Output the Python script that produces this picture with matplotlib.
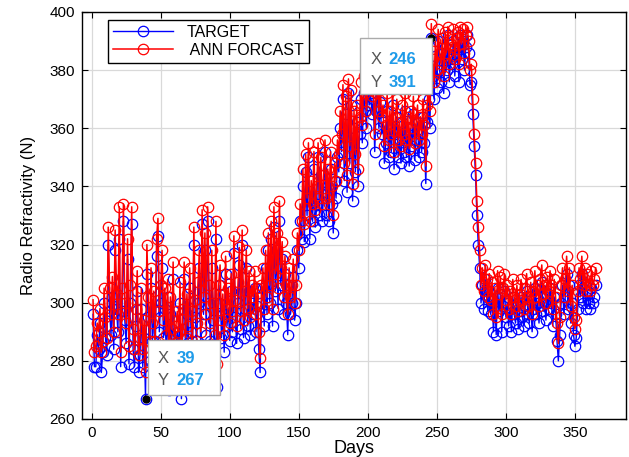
import numpy as np
import matplotlib
matplotlib.use("Agg")
import matplotlib.pyplot as plt
from matplotlib.patches import Rectangle

plt.rcParams['font.family'] = ['Liberation Sans', 'DejaVu Sans']

days = list(range(1, 366))

target = [
    296, 278, 278, 289, 284, 293, 276, 283, 300, 288,
    282, 320, 297, 289, 302, 284, 318, 298, 290, 322,
    278, 297, 328, 294, 286, 315, 279, 300, 327, 284,
    278, 292, 304, 276, 282, 298, 278, 288, 267, 310,
    295, 280, 305, 287, 298, 281, 316, 323, 290, 300,
    312, 288, 298, 283, 302, 270, 296, 285, 308, 280,
    286, 290, 284, 300, 267, 291, 308, 282, 296, 286,
    305, 290, 281, 320, 295, 287, 300, 312, 284, 327,
    296, 318, 289, 328, 300, 287, 312, 294, 282, 322,
    271, 300, 306, 288, 296, 283, 310, 292, 298, 287,
    304, 290, 317, 295, 286, 300, 313, 291, 320, 288,
    298, 312, 292, 304, 289, 300, 296, 305, 290, 299,
    284, 276, 300, 305, 292, 312, 296, 318, 300, 322,
    292, 326, 304, 318, 298, 328, 306, 315, 296, 310,
    300, 289, 306, 296, 300, 309, 294, 300, 318, 312,
    328, 322, 340, 321, 345, 330, 350, 322, 336, 328,
    346, 326, 334, 350, 330, 344, 328, 338, 352, 330,
    340, 328, 346, 334, 324, 342, 336, 350, 345, 360,
    352, 370, 342, 365, 338, 372, 348, 368, 335, 360,
    345, 362, 340, 358, 370, 355, 372, 366, 360, 375,
    368, 372, 365, 370, 352, 366, 374, 360, 369, 358,
    362, 348, 355, 366, 350, 360, 352, 368, 346, 358,
    364, 350, 356, 348, 362, 352, 366, 350, 358, 347,
    360, 354, 365, 349, 356, 362, 350, 358, 352, 364,
    355, 341, 362, 370, 360, 391, 378, 370, 385, 374,
    390, 380, 376, 386, 372, 388, 380, 392, 376, 384,
    382, 390, 378, 386, 388, 376, 392, 384, 390, 380,
    388, 392, 386, 375, 376, 365, 354, 344, 330, 320,
    312, 300, 306, 298, 308, 302, 297, 304, 296, 301,
    290, 299, 289, 305, 297, 303, 290, 299, 304, 295,
    300, 292, 298, 290, 302, 296, 293, 300, 291, 297,
    302, 295, 292, 299, 304, 296, 293, 301, 290, 298,
    305, 296, 300, 293, 302, 307, 297, 300, 294, 303,
    298, 305, 300, 292, 302, 296, 287, 280, 289, 300,
    306, 296, 302, 310, 298, 306, 293, 300, 289, 285,
    288, 298, 306, 302, 310, 300, 306, 298, 304, 300,
    298, 305, 300, 302, 306,
]

forecast = [
    301, 283, 285, 293, 290, 298, 283, 287, 305, 295,
    288, 326, 305, 296, 309, 290, 325, 303, 296, 333,
    283, 305, 334, 300, 293, 322, 285, 306, 333, 291,
    284, 298, 311, 282, 288, 305, 284, 294, 276, 320,
    302, 287, 312, 293, 304, 287, 322, 329, 297, 306,
    318, 294, 305, 289, 308, 277, 302, 291, 314, 286,
    292, 297, 290, 307, 274, 298, 314, 288, 303, 292,
    312, 297, 287, 326, 301, 293, 307, 318, 290, 332,
    302, 324, 296, 333, 306, 293, 318, 300, 289, 328,
    279, 306, 313, 294, 303, 289, 316, 298, 305, 293,
    310, 297, 323, 301, 292, 307, 319, 297, 325, 294,
    304, 318, 298, 311, 295, 306, 302, 311, 296, 305,
    290, 281, 306, 312, 298, 318, 302, 324, 306, 328,
    298, 333, 310, 324, 305, 335, 312, 321, 302, 316,
    306, 296, 312, 302, 306, 315, 300, 306, 324, 318,
    334, 328, 346, 327, 351, 336, 355, 328, 342, 334,
    352, 332, 340, 355, 336, 350, 334, 344, 356, 336,
    346, 334, 352, 340, 330, 348, 342, 356, 351, 366,
    358, 375, 348, 371, 344, 377, 354, 373, 341, 366,
    351, 368, 346, 364, 376, 361, 378, 372, 366, 380,
    374, 378, 371, 376, 358, 372, 380, 366, 375, 364,
    368, 354, 361, 372, 356, 366, 358, 374, 352, 364,
    370, 356, 362, 354, 368, 358, 372, 356, 364, 353,
    366, 360, 371, 355, 362, 368, 356, 364, 358, 370,
    361, 347, 368, 376, 366, 396, 384, 376, 390, 380,
    394, 386, 382, 391, 378, 393, 386, 395, 382, 389,
    388, 394, 384, 391, 393, 382, 395, 389, 394, 386,
    392, 395, 390, 380, 382, 370, 358, 348, 335, 326,
    318, 306, 312, 304, 313, 308, 302, 310, 301, 307,
    296, 305, 295, 311, 303, 309, 296, 305, 310, 301,
    306, 298, 304, 296, 308, 302, 299, 306, 297, 303,
    308, 301, 298, 305, 310, 302, 299, 307, 296, 304,
    311, 302, 306, 299, 308, 313, 303, 306, 300, 309,
    304, 311, 306, 298, 308, 302, 293, 286, 295, 306,
    312, 302, 308, 316, 304, 312, 299, 306, 295, 291,
    294, 304, 312, 308, 316, 306, 312, 304, 310, 306,
    304, 311, 306, 308, 312,
]

x_ticks = [0, 50, 100, 150, 200, 250, 300, 350]
y_ticks = [260, 280, 300, 320, 340, 360, 380, 400]
tips = [(39, 267), (246, 391)]

W, H = 629, 457
fig = plt.figure(figsize=(W / 100, H / 100), dpi=100)
ax = fig.add_axes([82 / W, 1 - 419 / H, (626 - 82) / W, (419 - 12) / H])

ax.plot(days, target, color='#0000FF', lw=1.0, marker='o', mfc='none',
        mec='#0000FF', ms=7.5, mew=0.9, label='TARGET')
ax.plot(days, forecast, color='#FF0000', lw=1.1, marker='o', mfc='none',
        mec='#FF0000', ms=7.5, mew=0.9, label=' ANN FORCAST')

ax.set_xlim(-7, 387)
ax.set_ylim(260, 400)
ax.set_xticks(x_ticks)
ax.set_yticks(y_ticks)
ax.grid(True, color='#d9d9d9', lw=0.9)
ax.set_axisbelow(True)
ax.tick_params(direction='in', top=True, right=True, labelsize=11, length=4, pad=5)
for s in ax.spines.values():
    s.set_linewidth(1.0)
ax.set_ylabel('Radio Refractivity (N)', fontsize=12, labelpad=10)
ax.set_xlabel('Days', fontsize=13, labelpad=0)

leg = ax.legend(loc='upper left', bbox_to_anchor=((108 - 82) / (626 - 82), 1 - (20 - 12) / (419 - 12)),
                fontsize=11.5, frameon=True, fancybox=False, edgecolor='black',
                framealpha=1, borderpad=0.3, handlelength=3.8, labelspacing=0.2,
                borderaxespad=0)
leg.get_frame().set_linewidth(1.0)

fig.canvas.draw()

def add_tip(xv, yv, box, tx, lab_x, lab_y):
    p = ax.transData.transform((xv, yv))
    x0, y0, w, h = box
    fig.patches.append(Rectangle(((p[0] + x0) / W, (p[1] + y0) / H), w / W, h / H,
                                 transform=fig.transFigure, facecolor='white',
                                 edgecolor='#aaaaaa', lw=1.0, zorder=10))
    for dy, name, val in [(lab_y[0], 'X', str(xv)), (lab_y[1], 'Y', str(yv))]:
        fig.text((p[0] + tx) / W, (p[1] + dy) / H, name, color='#555555',
                 fontsize=12, va='center', ha='left', zorder=11)
        fig.text((p[0] + lab_x) / W, (p[1] + dy) / H, val, color='#1e9be9',
                 fontsize=12, fontweight='bold', va='center', ha='left', zorder=11)
    ax.plot([xv], [yv], 'o', color='black', ms=5, zorder=12)

add_tip(tips[0][0], tips[0][1], (2, 4, 72, 55), 12, 31, (40, 18))
add_tip(tips[1][0], tips[1][1], (-71, -56, 72, 56), -61, -43, (-21, -44))

fig.savefig('out.png', dpi=100)
